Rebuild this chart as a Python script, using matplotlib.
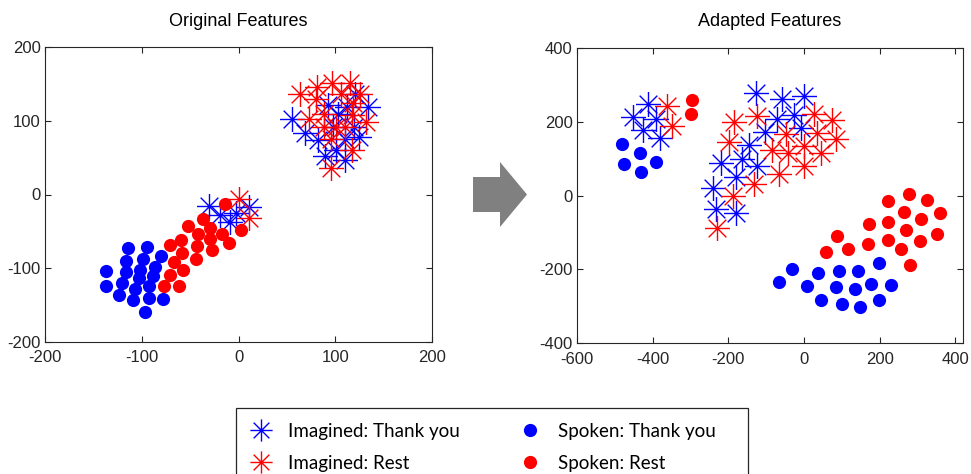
import matplotlib
matplotlib.use('Agg')
import matplotlib.pyplot as plt
from matplotlib.path import Path
from matplotlib.patches import Polygon, Rectangle
from matplotlib.lines import Line2D

plt.rcParams['axes.unicode_minus'] = False

# ---------------- data: Original Features ----------------
orig_img_thank_x = [-30, -19, -9, -3, 11, 55, 69, 82, 89, 101, 110, 125, 134, 92, 103, 112, 110, 119, 98, 120]
orig_img_thank_y = [-16, -28, -38, -25, -17, 103, 84, 74, 52, 60, 47, 78, 119, 121, 110, 119, 76, 92, 92, 137]
orig_img_rest_x = [0, 11, 64, 81, 97, 115, 126, 80, 106, 73, 88, 118, 132, 117, 101, 96, 117, 96, 110, 88]
orig_img_rest_y = [-6, -32, 137, 146, 152, 152, 137, 130, 136, 102, 110, 124, 99, 108, 92, 76, 61, 36, 92, 92]
orig_spk_thank_x = [-137, -137, -114, -116, -116, -120, -124, -109, -107, -103, -102, -99, -95, -86, -88, -93, -92, -97, -80, -78]
orig_spk_thank_y = [-104, -124, -73, -90, -105, -120, -136, -143, -129, -114, -102, -87, -72, -98, -111, -124, -140, -160, -84, -142]
orig_spk_rest_x = [-71, -59, -52, -37, -42, -43, -29, -29, -27, -17, -10, -14, 3, -58, -67, -71, -77, -61, -57, -44]
orig_spk_rest_y = [-69, -62, -43, -33, -53, -70, -45, -61, -76, -53, -66, -13, -48, -79, -92, -109, -124, -124, -103, -87]

# ---------------- data: Adapted Features ----------------
adap_img_thank_x = [-453, -412, -392, -425, -381, -126, -57, 0, -72, -26, -9, -103, -145, -164, -220, -181, -125, -240, -233, -179]
adap_img_thank_y = [212, 247, 207, 176, 155, 277, 261, 268, 208, 218, 182, 171, 137, 98, 88, 50, 80, 20, -37, -48]
adap_img_rest_x = [-361, -349, -184, -125, -198, -85, -48, -42, -1, 26, 35, 73, 84, 45, -66, 0, -133, -187, -231]
adap_img_rest_y = [241, 189, 200, 214, 145, 124, 166, 115, 133, 221, 169, 205, 154, 115, 59, 79, 32, -1, -88]
adap_spk_thank_x = [-481, -477, -433, -431, -390, -65, -31, 7, 37, 44, 84, 92, 99, 134, 143, 148, 176, 198, 198, 230]
adap_spk_thank_y = [139, 85, 115, 63, 90, -233, -199, -246, -209, -284, -248, -204, -294, -254, -203, -301, -240, -183, -284, -242]
adap_spk_rest_x = [-296, -298, 58, 86, 115, 172, 170, 221, 221, 221, 257, 265, 269, 276, 279, 308, 306, 324, 350, 359]
adap_spk_rest_y = [259, 220, -152, -109, -145, -77, -132, -14, -72, -120, -145, -44, -93, 5, -189, -64, -123, -12, -104, -48]

titles = ["Original Features", "Adapted Features"]
orig_ticks = [-200, -100, 0, 100, 200]
adap_xticks = [-600, -400, -200, 0, 200, 400]
adap_yticks = [-400, -200, 0, 200, 400]
legend_labels = ["Imagined: Thank you", "Imagined: Rest", "Spoken: Thank you", "Spoken: Rest"]

BLUE = '#0000ff'
RED = '#ff0000'
AXC = '#262626'

W, H = 971, 474
fig = plt.figure(figsize=(W / 100, H / 100), dpi=100)


def px_rect(x0, y0, x1, y1):
    return [x0 / W, 1 - y1 / H, (x1 - x0) / W, (y1 - y0) / H]


ax1 = fig.add_axes(px_rect(45, 47.3, 432, 341.7))
ax2 = fig.add_axes(px_rect(577, 47.7, 963, 343.3))

d = 0.7071
star = Path([(-1, 0), (1, 0), (0, -1), (0, 1), (-d, -d), (d, d), (-d, d), (d, -d)],
            [Path.MOVETO, Path.LINETO] * 4)

STAR_MS = 18
DOT_MS = 9.5


def draw(ax, itx, ity, irx, iry, stx, sty, srx, sry):
    ax.plot(itx, ity, ls='none', marker=star, ms=STAR_MS, mec=BLUE, mfc='none', mew=1.0)
    ax.plot(irx, iry, ls='none', marker=star, ms=STAR_MS, mec=RED, mfc='none', mew=1.0)
    ax.plot(stx, sty, ls='none', marker='o', ms=DOT_MS, mec='none', mfc=BLUE)
    ax.plot(srx, sry, ls='none', marker='o', ms=DOT_MS, mec='none', mfc=RED)


draw(ax1, orig_img_thank_x, orig_img_thank_y, orig_img_rest_x, orig_img_rest_y,
     orig_spk_thank_x, orig_spk_thank_y, orig_spk_rest_x, orig_spk_rest_y)
draw(ax2, adap_img_thank_x, adap_img_thank_y, adap_img_rest_x, adap_img_rest_y,
     adap_spk_thank_x, adap_spk_thank_y, adap_spk_rest_x, adap_spk_rest_y)

ax1.set_xlim(-200, 200)
ax1.set_ylim(-200, 200)
ax1.set_xticks(orig_ticks)
ax1.set_yticks(orig_ticks)
ax2.set_xlim(-600, 420)
ax2.set_ylim(-400, 400)
ax2.set_xticks(adap_xticks)
ax2.set_yticks(adap_yticks)

for ax in (ax1, ax2):
    ax.tick_params(direction='in', top=True, right=True, length=4, width=0.8,
                   colors=AXC, labelsize=12)
    ax.tick_params(axis='x', pad=6)
    ax.tick_params(axis='y', pad=3)
    for lbl in ax.get_xticklabels() + ax.get_yticklabels():
        lbl.set_family('Liberation Sans')
    for s in ax.spines.values():
        s.set_color(AXC)
        s.set_linewidth(0.8)

fig.text(238.5 / W, 1 - 26 / H, titles[0], ha='center', va='baseline',
         fontsize=13, family='Liberation Sans', color='black')
fig.text(770 / W, 1 - 26 / H, titles[1], ha='center', va='baseline',
         fontsize=13, family='Liberation Sans', color='black')

# arrow between the panels
arrow_px = [(473, 177), (500, 177), (500, 162), (527, 194.5), (500, 227), (500, 212), (473, 212)]
fig.add_artist(Polygon([(x / W, 1 - y / H) for x, y in arrow_px], closed=True,
                       transform=fig.transFigure, fc='#808080', ec='none'))

# legend
handles = [
    Line2D([], [], ls='none', marker=star, ms=16, mec=BLUE, mfc='none', mew=1.0),
    Line2D([], [], ls='none', marker=star, ms=16, mec=RED, mfc='none', mew=1.0),
    Line2D([], [], ls='none', marker='o', ms=DOT_MS, mec='none', mfc=BLUE),
    Line2D([], [], ls='none', marker='o', ms=DOT_MS, mec='none', mfc=RED),
]
fig.add_artist(Rectangle((236 / W, -0.1), 512 / W, (1 - 408 / H) + 0.1,
                         transform=fig.transFigure, fill=False, ec=AXC, lw=0.9))
fig.legend(handles, legend_labels, ncol=2, loc='upper left',
           bbox_to_anchor=(248 / W, 1 - 423 / H), frameon=False,
           prop={'family': 'Lato', 'size': 13.5}, borderpad=0, borderaxespad=0,
           handlelength=1.4, handletextpad=0.75, columnspacing=3.05, labelspacing=0.8)

fig.savefig('out.png', dpi=100)
